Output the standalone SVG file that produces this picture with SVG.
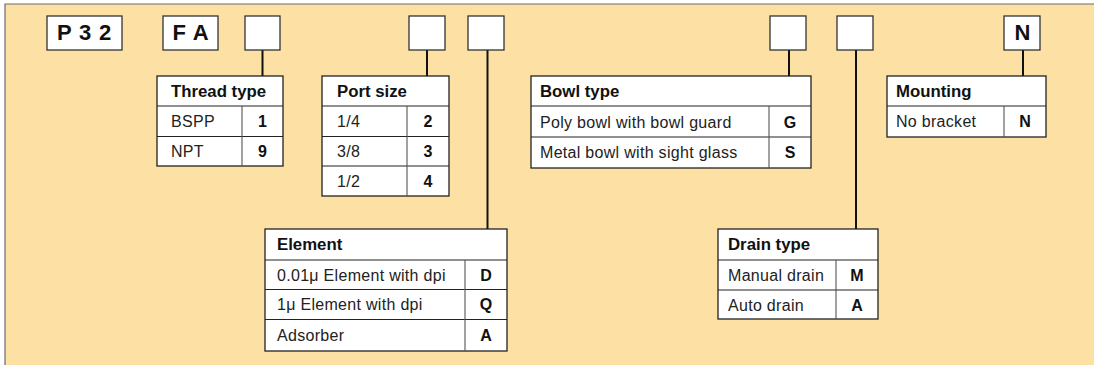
<svg xmlns="http://www.w3.org/2000/svg" width="1094" height="365" viewBox="0 0 1094 365">
<style>
.bg{fill:#FDE1A4}
.edge{stroke:#6b6b6b;stroke-width:1.2;fill:none}
.box{fill:#fff;stroke:#333;stroke-width:1.3}
.tb{fill:#fff;stroke:#222;stroke-width:1.3}
.ln{stroke:#222;stroke-width:1.1;fill:none}
.dv{stroke:#555;stroke-width:1.1;fill:none}
.con{stroke:#111;stroke-width:2;fill:none}
text{font-family:"Liberation Sans",Arial,Helvetica,sans-serif;fill:#111}
.code{font-size:22px;font-weight:bold;letter-spacing:0.8px}
.hd{font-size:16.8px;font-weight:bold}
.bd{font-size:16px;letter-spacing:0.3px;fill:#222}
.v{font-size:16px;font-weight:bold;text-anchor:middle}
</style>
<rect class="bg" x="5" y="4" width="1095" height="370"/>
<path class="edge" d="M5,370 V4 H1100"/>

<g id="connectors">
<line class="con" x1="262.5" y1="50" x2="262.5" y2="76"/>
<line class="con" x1="427" y1="50" x2="427" y2="76"/>
<line class="con" x1="487.5" y1="50" x2="487.5" y2="229"/>
<line class="con" x1="789" y1="50" x2="789" y2="76"/>
<line class="con" x1="856" y1="50" x2="856" y2="229"/>
<line class="con" x1="1023" y1="50" x2="1023" y2="76"/>
</g>

<g id="code-p32"><rect class="box" x="47" y="16" width="75" height="34"/><text class="code" x="84.5" y="40" text-anchor="middle">P 3 2</text></g>
<g id="code-fa"><rect class="box" x="163" y="16" width="55" height="34"/><text class="code" x="191" y="40" text-anchor="middle">F A</text></g>
<g id="slot-thread"><rect class="box" x="245" y="16" width="35" height="34"/></g>
<g id="slot-port"><rect class="box" x="409" y="16" width="36" height="34"/></g>
<g id="slot-element"><rect class="box" x="468" y="16" width="36" height="34"/></g>
<g id="slot-bowl"><rect class="box" x="770" y="16" width="36" height="34"/></g>
<g id="slot-drain"><rect class="box" x="837" y="16" width="36" height="34"/></g>
<g id="slot-mounting"><rect class="box" x="1004" y="16" width="36" height="34"/><text class="code" x="1022.5" y="40" text-anchor="middle" style="letter-spacing:0">N</text></g>

<g id="table-thread">
<rect class="tb" x="157" y="76" width="126" height="90"/>
<line class="ln" x1="157" y1="106" x2="283" y2="106"/>
<line class="ln" x1="157" y1="136.5" x2="283" y2="136.5"/>
<line class="dv" x1="242" y1="106" x2="242" y2="166"/>
<text class="hd" x="171" y="97">Thread type</text>
<text class="bd" x="171" y="127">BSPP</text><text class="v" x="262.5" y="127">1</text>
<text class="bd" x="171" y="157">NPT</text><text class="v" x="262.5" y="157">9</text>
</g>

<g id="table-port">
<rect class="tb" x="322" y="76" width="127" height="120"/>
<line class="ln" x1="322" y1="106" x2="449" y2="106"/>
<line class="ln" x1="322" y1="136.5" x2="449" y2="136.5"/>
<line class="ln" x1="322" y1="166" x2="449" y2="166"/>
<line class="dv" x1="407" y1="106" x2="407" y2="196"/>
<text class="hd" x="337" y="97">Port size</text>
<text class="bd" x="337" y="127">1/4</text><text class="v" x="428" y="127">2</text>
<text class="bd" x="337" y="157">3/8</text><text class="v" x="428" y="157">3</text>
<text class="bd" x="337" y="187">1/2</text><text class="v" x="428" y="187">4</text>
</g>

<g id="table-bowl">
<rect class="tb" x="531" y="76" width="280" height="92"/>
<line class="ln" x1="531" y1="106" x2="811" y2="106"/>
<line class="ln" x1="531" y1="137" x2="811" y2="137"/>
<line class="dv" x1="769" y1="106" x2="769" y2="168"/>
<text class="hd" x="540" y="97">Bowl type</text>
<text class="bd" x="540" y="128">Poly bowl with bowl guard</text><text class="v" x="790" y="128">G</text>
<text class="bd" x="540" y="158">Metal bowl with sight glass</text><text class="v" x="790" y="158">S</text>
</g>

<g id="table-mounting">
<rect class="tb" x="887" y="76" width="159" height="61"/>
<line class="ln" x1="887" y1="106" x2="1046" y2="106"/>
<line class="dv" x1="1004" y1="106" x2="1004" y2="137"/>
<text class="hd" x="896" y="97">Mounting</text>
<text class="bd" x="896" y="127">No bracket</text><text class="v" x="1025" y="127">N</text>
</g>

<g id="table-element">
<rect class="tb" x="265" y="229" width="242" height="122"/>
<line class="ln" x1="265" y1="260" x2="507" y2="260"/>
<line class="ln" x1="265" y1="289.5" x2="507" y2="289.5"/>
<line class="ln" x1="265" y1="319.5" x2="507" y2="319.5"/>
<line class="dv" x1="465" y1="260" x2="465" y2="351"/>
<text class="hd" x="277" y="250">Element</text>
<text class="bd" x="277" y="281">0.01μ Element with dpi</text><text class="v" x="486" y="281">D</text>
<text class="bd" x="277" y="310">1μ Element with dpi</text><text class="v" x="486" y="310">Q</text>
<text class="bd" x="277" y="341">Adsorber</text><text class="v" x="486" y="341">A</text>
</g>

<g id="table-drain">
<rect class="tb" x="718" y="229" width="160" height="90"/>
<line class="ln" x1="718" y1="260" x2="878" y2="260"/>
<line class="ln" x1="718" y1="290" x2="878" y2="290"/>
<line class="dv" x1="836" y1="260" x2="836" y2="319"/>
<text class="hd" x="728" y="250">Drain type</text>
<text class="bd" x="728" y="281">Manual drain</text><text class="v" x="857" y="281">M</text>
<text class="bd" x="728" y="311">Auto drain</text><text class="v" x="857" y="311">A</text>
</g>
</svg>
